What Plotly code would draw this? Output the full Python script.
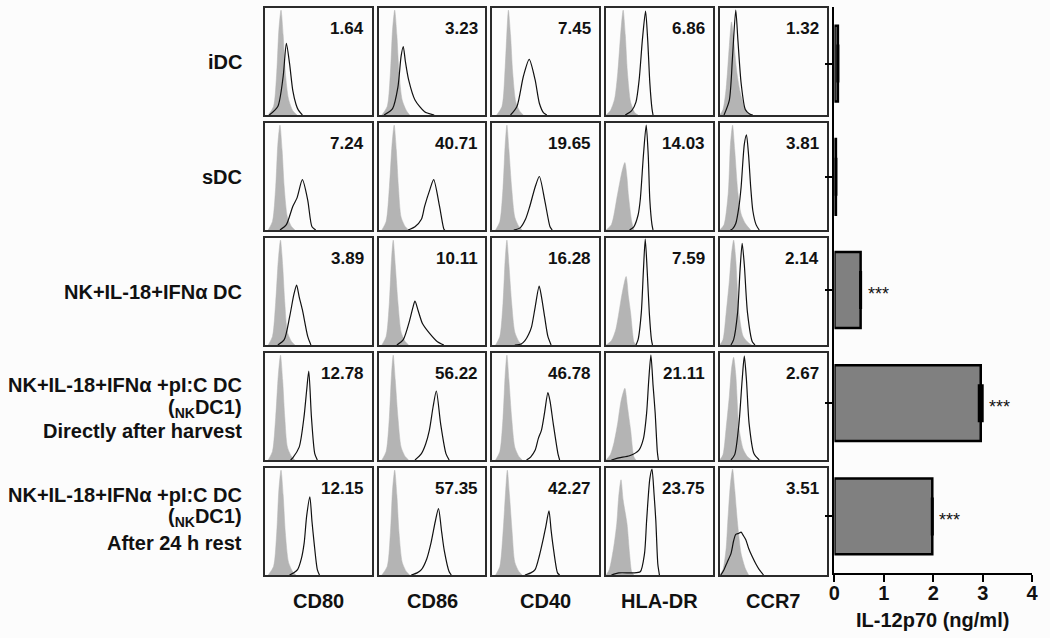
import plotly.graph_objects as go

# ---------------- data ----------------
markers = ["CD80", "CD86", "CD40", "HLA-DR", "CCR7"]

row_label_lines = [
    ["iDC"],
    ["sDC"],
    ["NK+IL-18+IFNα DC"],
    ["NK+IL-18+IFNα +pI:C DC", "(<sub>NK</sub>DC1)", "Directly after harvest"],
    ["NK+IL-18+IFNα +pI:C DC", "(<sub>NK</sub>DC1)", "After 24 h rest"],
]

# MFI ratios printed in each panel (rows x markers)
mfi_iDC = [1.64, 3.23, 7.45, 6.86, 1.32]
mfi_sDC = [7.24, 40.71, 19.65, 14.03, 3.81]
mfi_nkDC = [3.89, 10.11, 16.28, 7.59, 2.14]
mfi_nkDC1_fresh = [12.78, 56.22, 46.78, 21.11, 2.67]
mfi_nkDC1_rest = [12.15, 57.35, 42.27, 23.75, 3.51]

# histogram outlines: (fluorescence %, % of max)
iso_iDC = [
    [(3,0),(8,8),(11,40),(13,80),(15,98),(17,75),(19,40),(22,15),(26,4),(30,0)],
    [(3,0),(8,8),(11,40),(13,80),(15,98),(17,75),(19,40),(22,14),(26,4),(29,0)],
    [(4,0),(9,8),(12,45),(14,85),(15,98),(17,75),(19,40),(22,12),(26,3),(29,0)],
    [(0,0),(4,4),(8,15),(11,40),(14,80),(16,98),(18,75),(20,40),(23,12),(27,2),(30,0)],
    [(0,0),(3,5),(6,25),(9,65),(11,87),(13,70),(16,40),(19,22),(23,8),(27,2),(30,0)],
]
stain_iDC = [
    [(4,0),(12,8),(17,36),(20,67),(23,48),(26,23),(29,10),(31,5),(35,0)],
    [(5,0),(13,6),(18,26),(21,55),(23,64),(25,50),(28,33),(34,14),(43,3),(52,0)],
    [(17,0),(23,8),(29,36),(34.5,52),(40,33),(44,11),(48,2),(51,0)],
    [(18,0),(24,4),(28,12),(31,33),(34,70),(37,97),(39,70),(41,30),(43,6),(44,0)],
    [(4,0),(9,14),(12,55),(15,98),(17,70),(20,30),(24,5),(28,1),(31,0)],
]
iso_sDC = [
    [(3,0),(7,8),(10,40),(12,80),(14,98),(16,75),(18,40),(21,12),(25,3),(28,0)],
    [(3,0),(7,8),(10,40),(12.5,80),(14.5,98),(16.5,75),(18.5,40),(21,12),(25,3),(28,0)],
    [(3,0),(7,8),(10,40),(12,80),(13.6,98),(15.5,75),(18,40),(21,12),(25,3),(28,0)],
    [(0,0),(5,5),(10.5,32),(15,55),(17.6,63),(19.5,50),(21,32),(24,8),(26,0)],
    [(0,0),(4,5),(8,35),(10,80),(12,98),(14,75),(17,35),(20,15),(24,6),(29,0)],
]
stain_sDC = [
    [(14,0),(20,5),(26,22),(30,30),(35,47),(40,28),(44,3),(47.5,0)],
    [(27.5,0),(34,3),(40,10),(43,22),(48,38),(51.5,47),(57,22),(61,1),(62,0)],
    [(20,0),(26,2),(31,10),(35,22),(40,40),(44,50),(49,28),(54,3),(56,0)],
    [(22,0),(26,3),(30,14),(32,28),(35,70),(37.6,98),(39.5,70),(41,28),(43,5),(44,0)],
    [(10,0),(12,1),(15,6),(18,22),(20,40),(23,80),(25,89),(27,70),(29,40),(31,18),(34,5),(37,0)],
]
iso_nkDC = [
    [(3,0),(7,8),(10,40),(12.5,80),(14.5,98),(16.5,75),(18.5,40),(21,12),(25,3),(28,0)],
    [(3,0),(7,8),(10,40),(12,80),(13.6,98),(15.5,75),(18,40),(21,12),(25,3),(28,0)],
    [(3,0),(7,8),(10,40),(12,80),(13.6,98),(15.5,75),(18,40),(21,12),(25,3),(28,0)],
    [(0,0),(5,4),(9,14),(12,30),(15,48),(18.8,64),(21,45),(23,30),(25,10),(26,3),(28,0)],
    [(0,0),(3,5),(6,30),(9,60),(11,85),(13,98),(15,80),(18,30),(22,8),(27,2),(30,0)],
]
stain_nkDC = [
    [(12,0),(18,5),(23,26),(27,47),(29.6,56),(32,45),(35,33),(40,8),(43,0)],
    [(17,0),(23,5),(29,23),(32,35),(34,41),(37,32),(41,20),(47.5,11),(55,3),(61,0)],
    [(21,0),(27,1),(30.5,4),(34,10),(36.7,17),(40,35),(43.8,55),(46,45),(49,26),(52,8),(55,0)],
    [(28,0),(30,5),(33,30),(35,70),(36.7,99),(38.5,70),(40.5,30),(42.5,5),(43.5,0)],
    [(10.5,0),(13,5),(16.7,30),(19,70),(21,95),(23,75),(26,30),(30.5,3),(33,0)],
]
iso_nkDC1_fresh = [
    [(3,0),(7,8),(10,40),(12.5,80),(14.5,98),(16.5,75),(18.5,40),(21,12),(25,3),(28,0)],
    [(3,0),(7,8),(10,40),(12,80),(13.6,98),(15.5,75),(18,40),(21,12),(25,3),(28,0)],
    [(3,0),(7,8),(10,40),(12,80),(13.6,98),(15.5,75),(18,40),(21,12),(25,3),(28,0)],
    [(0,0),(4,5),(7.4,16),(11,35),(14,55),(17.6,67),(20,50),(23,28),(26,3),(28,0)],
    [(0,0),(3,5),(6,30),(9,60),(11,85),(13,96),(15,80),(18,30),(22,10),(26,3),(30,0)],
]
stain_nkDC1_fresh = [
    [(24,0),(26,2),(32,12),(36.5,40),(39,65),(41,83),(43.5,40),(46.6,6),(49,0)],
    [(34,0),(40,6),(44,15),(47.5,28),(51,50),(54,64.5),(58,34),(63,6),(66,0)],
    [(32,0),(36,3),(40,9),(43,20),(46,28),(49,45),(52,63),(54,55),(57,34),(61.4,6),(63,0)],
    [(5,0),(12,2),(22,4),(30.6,9),(35,20),(38,44),(40,75),(42,98),(44,70),(46,44),(48,8),(49,0)],
    [(10.5,0),(14,5),(18,34),(21,75),(23,97),(25,75),(27.5,34),(32,6),(37,0)],
]
iso_nkDC1_rest = [
    [(3,0),(8,8),(11,40),(13,80),(15,98),(17,75),(19,40),(22,12),(26,3),(29,0)],
    [(3,0),(8,8),(11,40),(13,80),(15,98),(17,75),(19,40),(22,12),(26,3),(29,0)],
    [(3,0),(7,8),(10,40),(12.5,80),(14,98),(16,75),(18.5,40),(21,12),(25,3),(28,0)],
    [(0,0),(3,5),(7,25),(10,48),(12,75),(14,89),(16,70),(19.6,48),(22,20),(24,3),(26,0)],
    [(0,0),(3,5),(6,25),(7.4,48),(10,85),(12,99),(14,80),(16.7,48),(20,20),(24,6),(27,0)],
]
stain_nkDC1_rest = [
    [(23,0),(27,2),(30.5,5),(34,15),(36.7,30),(39,55),(42,73),(44,50),(46,30),(49,5),(51,0)],
    [(30.5,0),(36,2),(40,5),(45,15),(49,30),(53,50),(56,62),(59,40),(61.4,23),(66,3),(68,0)],
    [(30.5,0),(36,2),(40,5),(44,18),(47.5,33),(50,45),(53,60),(55,42),(57,26),(61,2),(63,0)],
    [(5,0),(12,2),(25,2),(32,3),(36,20),(38,51),(41,90),(43,99),(45,75),(46.6,51),(48.5,10),(50,0)],
    [(1,0),(4,5),(7,12),(10.5,20),(13,32),(15,38),(18,39),(20,40),(22,37),(24.4,33),(27,25),(30.5,17),(34,10),(37,5),(41,0)],
]

# IL-12p70 secretion (ng/ml)
il12_groups = ["iDC", "sDC", "NK DC", "NKDC1 fresh", "NKDC1 rest"]
il12_ngml = [0.07, 0.03, 0.53, 2.96, 1.98]
il12_err = [0.0, 0.0, 0.0, 0.03, 0.0]
il12_sig = ["", "", "***", "***", "***"]
il12_ticks = [0, 1, 2, 3, 4]

iso_rows = [iso_iDC, iso_sDC, iso_nkDC, iso_nkDC1_fresh, iso_nkDC1_rest]
stain_rows = [stain_iDC, stain_sDC, stain_nkDC, stain_nkDC1_fresh, stain_nkDC1_rest]
mfi_rows = [mfi_iDC, mfi_sDC, mfi_nkDC, mfi_nkDC1_fresh, mfi_nkDC1_rest]

# ---------------- layout geometry ----------------
W, H = 1050, 638
FONT = "Liberation Sans, Arial, sans-serif"
BG = "#fcfcfc"
X0, Y0, PW, PH, PITCH = 262, 8, 108, 107, 115


def fx(px):
    return px / W


def fy(py):
    return 1 - py / H


fig = go.Figure()
layout = {}
annotations = []

for r in range(5):
    for c in range(5):
        idx = r * 5 + c + 1
        xa = f"x{idx}"
        ya = f"y{idx}"
        left = X0 + PITCH * c
        top = Y0 + PITCH * r
        iso = iso_rows[r][c]
        st = stain_rows[r][c]
        fig.add_trace(go.Scatter(
            x=[p[0] for p in iso], y=[p[1] for p in iso],
            mode="lines", line=dict(color="#b4b4b4", width=0.5, shape="spline", smoothing=0.7),
            fill="tozeroy", fillcolor="#b4b4b4", xaxis=xa, yaxis=ya,
            showlegend=False, hoverinfo="skip"))
        fig.add_trace(go.Scatter(
            x=[p[0] for p in st], y=[p[1] for p in st],
            mode="lines", line=dict(color="#111111", width=1.2, shape="spline", smoothing=0.7),
            xaxis=xa, yaxis=ya, showlegend=False, hoverinfo="skip"))
        common = dict(showgrid=False, zeroline=False, showticklabels=False, ticks="",
                      showline=True, mirror=True, linecolor="#2b2b2b", linewidth=1.5,
                      fixedrange=True)
        layout[f"xaxis{idx}"] = dict(domain=[fx(left), fx(left + PW)], range=[0, 100],
                                     anchor=ya, **common)
        layout[f"yaxis{idx}"] = dict(domain=[fy(top + PH), fy(top)], range=[0, 100],
                                     anchor=xa, **common)
        annotations.append(dict(
            x=fx(left + PW - 6), y=fy(top + 20), xref="paper", yref="paper",
            text=f"<b>{mfi_rows[r][c]:.2f}</b>", showarrow=False,
            xanchor="right", yanchor="middle",
            font=dict(family=FONT, size=17, color="#111111")))

# column labels
for c, m in enumerate(markers):
    annotations.append(dict(
        x=fx(X0 + PITCH * c + PW / 2), y=fy(601), xref="paper", yref="paper",
        text=f"<b>{m}</b>", showarrow=False, xanchor="center", yanchor="middle",
        font=dict(family=FONT, size=20, color="#111111")))

# row labels
line_centres = [[62], [177], [292], [385, 408, 431], [495, 517, 543]]
for r, lines in enumerate(row_label_lines):
    for k, txt in enumerate(lines):
        annotations.append(dict(
            x=fx(241), y=fy(line_centres[r][k]), xref="paper", yref="paper",
            text=f"<b>{txt}</b>", showarrow=False, xanchor="right", yanchor="middle",
            font=dict(family=FONT, size=20, color="#111111")))

# IL-12 bar chart
bidx = 26
fig.add_trace(go.Bar(
    x=il12_ngml, y=il12_groups, orientation="h", width=0.67,
    marker=dict(color="#808080", line=dict(color="#000000", width=2.5)),
    error_x=dict(type="data", array=il12_err, visible=True, color="#000000",
                 thickness=3, width=19),
    xaxis=f"x{bidx}", yaxis=f"y{bidx}", showlegend=False, hoverinfo="skip"))

layout[f"xaxis{bidx}"] = dict(
    domain=[fx(838), fx(1038)], range=[0, 4], anchor=f"y{bidx}",
    tickvals=il12_ticks, ticktext=[f"<b>{t}</b>" for t in il12_ticks],
    ticks="outside", ticklen=7, tickwidth=2, tickcolor="#000000",
    ticklabelstandoff=-6,
    showline=True, linecolor="#000000", linewidth=2, showgrid=False, zeroline=False,
    tickfont=dict(family=FONT, size=20, color="#111111"), fixedrange=True)
layout[f"yaxis{bidx}"] = dict(
    domain=[fy(573), fy(7)], range=[4.5, -0.5], anchor=f"x{bidx}",
    type="category", categoryorder="array", categoryarray=il12_groups,
    ticks="outside", ticklen=7, tickwidth=2, tickcolor="#000000",
    showticklabels=False, showline=True, linecolor="#000000", linewidth=2,
    showgrid=False, zeroline=False, fixedrange=True)

for g, v, e, s in zip(il12_groups, il12_ngml, il12_err, il12_sig):
    if s:
        annotations.append(dict(
            x=v + e, y=g, xref=f"x{bidx}", yref=f"y{bidx}", text=s, showarrow=False,
            xanchor="left", yanchor="middle", xshift=5, yshift=-4,
            font=dict(family=FONT, size=18, color="#111111")))

annotations.append(dict(
    x=fx(937), y=fy(620), xref="paper", yref="paper", text="<b>IL-12p70 (ng/ml)</b>",
    showarrow=False, xanchor="center", yanchor="middle",
    font=dict(family=FONT, size=20, color="#111111")))

fig.update_layout(
    width=W, height=H, margin=dict(l=0, r=0, t=0, b=0),
    paper_bgcolor=BG, plot_bgcolor=BG, annotations=annotations,
    font=dict(family=FONT), **layout)

fig.write_html(
    "out.html",
    config={"displayModeBar": False},
    post_script="document.body.style.margin='0px';document.body.style.overflow='hidden';")
